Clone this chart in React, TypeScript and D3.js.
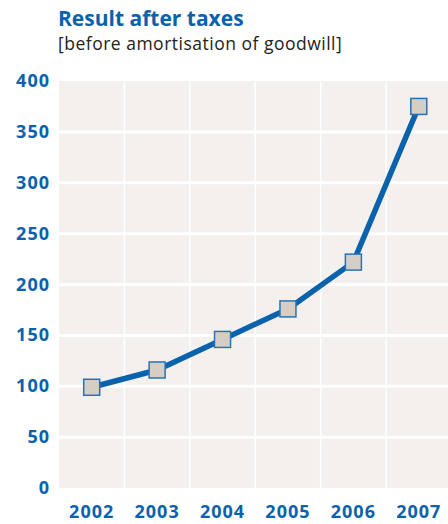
import React from "react";
import * as d3 from "d3";

const years = ["2002", "2003", "2004", "2005", "2006", "2007"];
const values = [99, 116, 146, 176, 222, 375];
const yTicks = [0, 50, 100, 150, 200, 250, 300, 350, 400];

const W = 448;
const H = 524;
const BLUE = "#0a62ad";
const FONT = "'Open Sans', 'DejaVu Sans', sans-serif";

export default function App() {
  const left = 59;
  const right = 451.5;
  const top = 81;
  const bottom = 488;
  const x = d3.scaleBand<string>().domain(years).range([left, right]).padding(0);
  const y = d3.scaleLinear().domain([0, 400]).range([bottom, top]);
  const cx = (d: string) => (x(d) as number) + x.bandwidth() / 2;
  const line = d3
    .line<number>()
    .x((_, i) => cx(years[i]))
    .y((v) => y(v));
  const s = 16;
  return (
    <svg
      width={W}
      height={H}
      style={{ position: "absolute", left: 0, top: 0, display: "block" }}
    >
      <rect x={0} y={0} width={W} height={H} fill="#ffffff" />
      <text x={58} y={26} fill={BLUE} fontFamily={FONT} fontWeight={700} fontSize={21} letterSpacing={0}>
        Result after taxes
      </text>
      <text x={58} y={50} fill="#222222" fontFamily={FONT} fontWeight={400} fontSize={17.5} letterSpacing={0.5}>
        [before amortisation of goodwill]
      </text>
      <rect x={left} y={top} width={right - left} height={bottom - top} fill="#f3f0ed" />
      {years.slice(1).map((yr) => (
        <line key={yr} x1={x(yr)} x2={x(yr)} y1={top} y2={bottom} stroke="#ffffff" strokeWidth={1.5} />
      ))}
      {yTicks.slice(1, -1).map((t) => (
        <line key={t} x1={left} x2={right} y1={y(t)} y2={y(t)} stroke="#ffffff" strokeWidth={3} />
      ))}
      {yTicks.map((t) => (
        <text
          key={t}
          x={50}
          y={y(t) + 6}
          textAnchor="end"
          fill={BLUE}
          fontFamily={FONT}
          fontWeight={700}
          fontSize={18}
          letterSpacing={1}
        >
          {t}
        </text>
      ))}
      {years.map((yr) => (
        <text
          key={yr}
          x={cx(yr)}
          y={518}
          textAnchor="middle"
          fill={BLUE}
          fontFamily={FONT}
          fontWeight={700}
          fontSize={18}
          letterSpacing={1}
        >
          {yr}
        </text>
      ))}
      <path d={line(values) || ""} fill="none" stroke={BLUE} strokeWidth={5.5} strokeLinejoin="round" />
      {values.map((v, i) => (
        <rect
          key={i}
          x={cx(years[i]) - s / 2}
          y={y(v) - s / 2}
          width={s}
          height={s}
          fill="#d4cec5"
          stroke="#2a72b8"
          strokeWidth={1.5}
        />
      ))}
    </svg>
  );
}
